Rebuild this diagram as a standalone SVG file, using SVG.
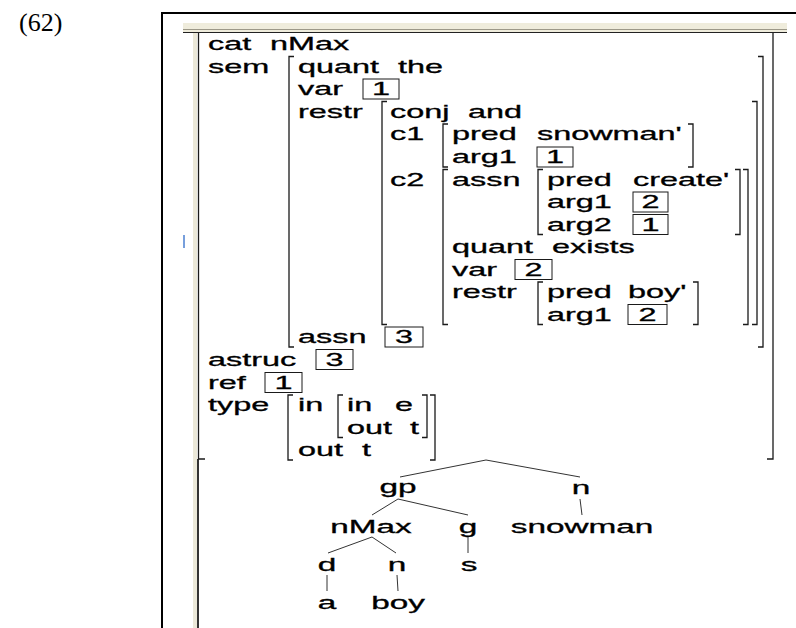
<svg xmlns="http://www.w3.org/2000/svg" width="796" height="628" viewBox="0 0 796 628">
<style>
.t{font-family:"Liberation Sans",Arial,sans-serif;font-size:18px;fill:#000;stroke:#000;stroke-width:0.3}
.c{text-anchor:middle}
.br{fill:none;stroke:#1a1a1a;stroke-width:1.3}
.box{fill:none;stroke:#1a1a1a;stroke-width:1}
.edge{fill:none;stroke:#333;stroke-width:1}
.lbl{font-family:"Liberation Serif","Times New Roman",serif;font-size:26px;fill:#000}
</style>
<rect width="796" height="628" fill="#fff"/>
<text class="lbl" x="19" y="31">(62)</text>
<g id="frame">
<path d="M162 628 V13 H796" fill="none" stroke="#000" stroke-width="2"/>
<rect x="183" y="23" width="604" height="10" fill="#efecdc"/>
<line x1="183" y1="29.5" x2="787" y2="29.5" stroke="#9c9888" stroke-width="1"/>
<line x1="183" y1="32.5" x2="787" y2="32.5" stroke="#222" stroke-width="1.2"/>
<rect x="193" y="33" width="4" height="595" fill="#ebe8d8"/>
<line x1="198" y1="459" x2="198" y2="628" stroke="#333" stroke-width="2"/>
<line x1="184" y1="235" x2="184" y2="248" stroke="#4a7fd0" stroke-width="1.5"/>
</g>
<g id="avm-brackets">
<path class="br" d="M205 459 H198.5 V33" stroke-width="3"/>
<path class="br" d="M773 33 V459 H767" stroke-width="2"/>
<path class="br" d="M294 56.5 H289 V347 H294"/>
<path class="br" d="M758 56.5 H763 V347 H758"/>
<path class="br" d="M387 101.5 H382 V324.5 H387"/>
<path class="br" d="M752 101.5 H757 V324.5 H752"/>
<path class="br" d="M448 124 H443 V167 H448"/>
<path class="br" d="M688 124 H693 V167 H688"/>
<path class="br" d="M448 169.5 H443 V324.5 H448"/>
<path class="br" d="M743 169.5 H748 V324.5 H743"/>
<path class="br" d="M543 169.5 H538 V234.5 H543"/>
<path class="br" d="M735 169.5 H740 V234.5 H735"/>
<path class="br" d="M543 282 H538 V324.5 H543"/>
<path class="br" d="M693 282 H698 V324.5 H693"/>
<path class="br" d="M293 395 H288 V460 H293"/>
<path class="br" d="M430 395 H435 V460 H430"/>
<path class="br" d="M343 395 H338 V437.5 H343"/>
<path class="br" d="M422 395 H427 V437.5 H422"/>
</g>
<g id="avm-boxes">
<rect class="box" x="363" y="79" width="36" height="20"/>
<rect class="box" x="537" y="147" width="36" height="20"/>
<rect class="box" x="633" y="192" width="35" height="20"/>
<rect class="box" x="633" y="214.5" width="35" height="20"/>
<rect class="box" x="515" y="259.5" width="37" height="20"/>
<rect class="box" x="628" y="304.5" width="39" height="20"/>
<rect class="box" x="385" y="327" width="38" height="20"/>
<rect class="box" x="316" y="349.5" width="37" height="20"/>
<rect class="box" x="265" y="372.5" width="37" height="20"/>
</g>
<g id="avm-text">
<g id="row-cat"><text class="t" transform="translate(208 50) scale(1.8 1)">cat</text><text class="t" transform="translate(270 50) scale(1.8 1)">nMax</text></g>
<g id="row-sem"><text class="t" transform="translate(208 72.5) scale(1.8 1)">sem</text><text class="t" transform="translate(298 72.5) scale(1.8 1)">quant</text><text class="t" transform="translate(398 72.5) scale(1.8 1)">the</text></g>
<g id="row-var"><text class="t" transform="translate(298 95) scale(1.8 1)">var</text><text class="t c" transform="translate(381 95) scale(1.8 1)">1</text></g>
<g id="row-restr"><text class="t" transform="translate(298 117.5) scale(1.8 1)">restr</text><text class="t" transform="translate(390 117.5) scale(1.8 1)">conj</text><text class="t" transform="translate(468 117.5) scale(1.8 1)">and</text></g>
<g id="row-c1"><text class="t" transform="translate(390 140) scale(1.8 1)">c1</text><text class="t" transform="translate(452 140) scale(1.8 1)">pred</text><text class="t" transform="translate(537 140) scale(1.8 1)">snowman'</text></g>
<g id="row-c1-arg1"><text class="t" transform="translate(452 163) scale(1.8 1)">arg1</text><text class="t c" transform="translate(555 163) scale(1.8 1)">1</text></g>
<g id="row-c2"><text class="t" transform="translate(390 185.5) scale(1.8 1)">c2</text><text class="t" transform="translate(452 185.5) scale(1.8 1)">assn</text><text class="t" transform="translate(547 185.5) scale(1.8 1)">pred</text><text class="t" transform="translate(633 185.5) scale(1.8 1)">create'</text></g>
<g id="row-assn-arg1"><text class="t" transform="translate(547 208) scale(1.8 1)">arg1</text><text class="t c" transform="translate(650.5 208) scale(1.8 1)">2</text></g>
<g id="row-assn-arg2"><text class="t" transform="translate(547 230.5) scale(1.8 1)">arg2</text><text class="t c" transform="translate(650.5 230.5) scale(1.8 1)">1</text></g>
<g id="row-quant2"><text class="t" transform="translate(452 253) scale(1.8 1)">quant</text><text class="t" transform="translate(552 253) scale(1.8 1)">exists</text></g>
<g id="row-var2"><text class="t" transform="translate(452 275.5) scale(1.8 1)">var</text><text class="t c" transform="translate(533.5 275.5) scale(1.8 1)">2</text></g>
<g id="row-restr2"><text class="t" transform="translate(452 298) scale(1.8 1)">restr</text><text class="t" transform="translate(547 298) scale(1.8 1)">pred</text><text class="t" transform="translate(628 298) scale(1.8 1)">boy'</text></g>
<g id="row-restr2-arg1"><text class="t" transform="translate(547 320.5) scale(1.8 1)">arg1</text><text class="t c" transform="translate(647.5 320.5) scale(1.8 1)">2</text></g>
<g id="row-assn"><text class="t" transform="translate(298 343) scale(1.8 1)">assn</text><text class="t c" transform="translate(404 343) scale(1.8 1)">3</text></g>
<g id="row-astruc"><text class="t" transform="translate(208 365.5) scale(1.8 1)">astruc</text><text class="t c" transform="translate(334.5 365.5) scale(1.8 1)">3</text></g>
<g id="row-ref"><text class="t" transform="translate(208 388.5) scale(1.8 1)">ref</text><text class="t c" transform="translate(283.5 388.5) scale(1.8 1)">1</text></g>
<g id="row-type"><text class="t" transform="translate(208 411) scale(1.8 1)">type</text><text class="t" transform="translate(298 411) scale(1.8 1)">in</text><text class="t" transform="translate(347 411) scale(1.8 1)">in</text><text class="t" transform="translate(395 411) scale(1.8 1)">e</text></g>
<g id="row-type-out1"><text class="t" transform="translate(347 433.5) scale(1.8 1)">out</text><text class="t" transform="translate(410 433.5) scale(1.8 1)">t</text></g>
<g id="row-type-out2"><text class="t" transform="translate(298 456) scale(1.8 1)">out</text><text class="t" transform="translate(362 456) scale(1.8 1)">t</text></g>
</g>
<g id="connectors">
<path class="edge" d="M400 477 L486 460 L580 477"/>
<path class="edge" d="M372 515 L398 499 L468 515"/>
<path class="edge" d="M580 499 L582 515"/>
<path class="edge" d="M328 553 L372 537 L396 553"/>
<path class="edge" d="M468 537 V553"/>
<path class="edge" d="M327 575 V591"/>
<path class="edge" d="M397 575 L398 591"/>
</g>
<g id="node-gp"><text class="t c" transform="translate(398 493) scale(1.85 1)">gp</text></g>
<g id="node-n1"><text class="t c" transform="translate(581 494) scale(1.85 1)">n</text></g>
<g id="node-nMax"><text class="t c" transform="translate(371 533) scale(1.85 1)">nMax</text></g>
<g id="node-g"><text class="t c" transform="translate(468 533) scale(1.85 1)">g</text></g>
<g id="node-snowman"><text class="t c" transform="translate(582 533) scale(1.85 1)">snowman</text></g>
<g id="node-d"><text class="t c" transform="translate(327 571) scale(1.85 1)">d</text></g>
<g id="node-n2"><text class="t c" transform="translate(397 571) scale(1.85 1)">n</text></g>
<g id="node-s"><text class="t c" transform="translate(469 571) scale(1.85 1)">s</text></g>
<g id="node-a"><text class="t c" transform="translate(327 609) scale(1.85 1)">a</text></g>
<g id="node-boy"><text class="t c" transform="translate(398 609) scale(1.85 1)">boy</text></g>
</svg>
